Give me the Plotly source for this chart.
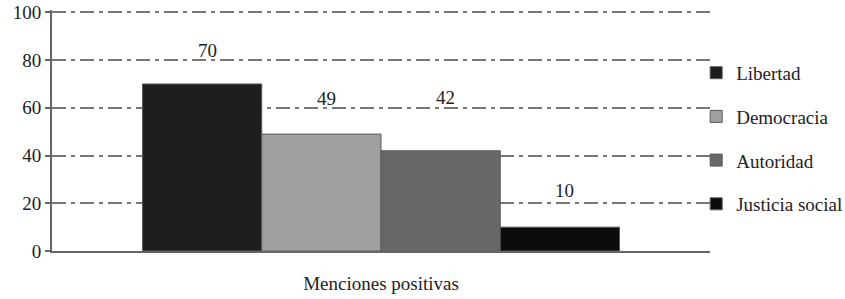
import plotly.graph_objects as go

categories = ["Menciones positivas"]
series_names = ["Libertad", "Democracia", "Autoridad", "Justicia social"]
series_values = [70, 49, 42, 10]
series_colors = ["#1e1e1e", "#a0a0a0", "#686868", "#0c0c0c"]
y_ticks = [0, 20, 40, 60, 80, 100]
label_yshift = [33, 36, 53, 37]

FONT = "Liberation Serif, Times New Roman, DejaVu Serif, serif"
bargap = 0.275

fig = go.Figure()
for i, (name, val, col) in enumerate(zip(series_names, series_values, series_colors)):
    fig.add_trace(go.Bar(
        x=categories, y=[val], name=name,
        marker=dict(color=col, line=dict(color="#5a5a5a", width=1)),
        legendgroup=name,
    ))

n = len(series_names)
bw = (1 - bargap) / n
for i, val in enumerate(series_values):
    xc = -(1 - bargap) / 2 + bw * (i + 0.5)
    fig.add_annotation(
        x=xc, y=val, xref="x", yref="y", text=str(val), showarrow=False,
        yshift=label_yshift[i], xshift=5, yanchor="middle",
        font=dict(family=FONT, size=19, color="#222"),
    )

dash = "14px,5px,4px,5px"
fig.update_layout(
    width=845, height=299,
    margin=dict(l=52, r=135, t=10, b=48, autoexpand=False),
    paper_bgcolor="white", plot_bgcolor="white",
    barmode="group", bargap=bargap, bargroupgap=0,
    font=dict(family=FONT, size=19, color="#222"),
    showlegend=True,
    legend=dict(x=0.979, y=0.818, xanchor="left", yanchor="top",
                bgcolor="rgba(0,0,0,0)",
                font=dict(family=FONT, size=19, color="#222"),
                tracegroupgap=16, itemwidth=30, traceorder="grouped"),
    xaxis=dict(
        showticklabels=False, showgrid=False, automargin=False,
        showline=True, linecolor="#666", linewidth=2,
        ticks="", title=dict(text=categories[0], standoff=25,
                             font=dict(family=FONT, size=19, color="#222")),
    ),
    yaxis=dict(
        range=[0, 101], tickvals=y_ticks, automargin=False,
        showline=True, linecolor="#666", linewidth=2,
        ticks="outside", ticklen=5, tickcolor="#666", tickwidth=2,
        showgrid=True, gridcolor="#777", gridwidth=2, griddash=dash,
        zeroline=False,
        tickfont=dict(family=FONT, size=19, color="#222"),
    ),
)

fig.write_html("out.html", config={"displayModeBar": False},
               post_script="document.body.style.margin='0px';document.body.style.padding='0px';")
